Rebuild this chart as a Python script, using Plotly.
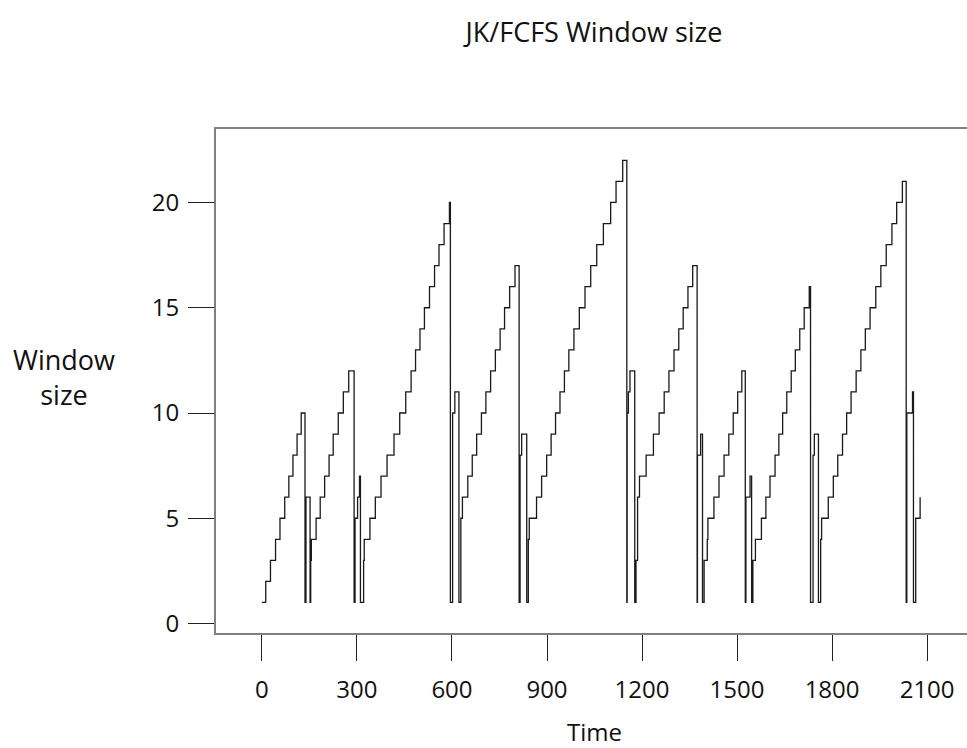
import plotly.graph_objects as go

# Change points of the window-size step function (time, window size)
time_points = [
    0, 12, 27, 43, 57, 72, 85, 98, 111, 124,
    136, 139, 152, 154, 156, 171, 184, 198, 212, 225, 241, 257, 274,
    291, 294, 302, 308, 311, 321, 323, 341, 358, 376, 395, 417, 435, 454, 471,
    485, 499, 513, 529, 545, 559, 575, 592,
    595, 602, 609, 622, 628, 633, 650, 664, 678, 693, 707, 722, 737, 752, 766, 782, 799,
    812, 815, 820, 836, 841, 844, 867, 883, 899, 913, 927, 941, 955, 969, 985, 1002,
    1020, 1038, 1057, 1078, 1101, 1118, 1139,
    1152, 1153, 1157, 1162, 1177, 1181, 1186, 1192, 1213, 1236, 1254, 1270, 1285,
    1301, 1316, 1330, 1345, 1360,
    1374, 1375, 1385, 1391, 1396, 1406, 1408, 1427, 1443, 1459, 1474, 1488, 1502, 1515,
    1526, 1528, 1541, 1546, 1550, 1558, 1577, 1591, 1604, 1620, 1632, 1644, 1657, 1671,
    1684, 1698, 1712, 1728,
    1732, 1740, 1744, 1757, 1764, 1767, 1788, 1804, 1818, 1833, 1846, 1860, 1876,
    1891, 1905, 1920, 1938, 1954, 1971, 1989, 2004, 2022,
    2034, 2036, 2054, 2057, 2064, 2078,
]
window_values = [
    1, 2, 3, 4, 5, 6, 7, 8, 9, 10,
    1, 6, 1, 3, 4, 5, 6, 7, 8, 9, 10, 11, 12,
    1, 5, 6, 7, 1, 3, 4, 5, 6, 7, 8, 9, 10, 11, 12,
    13, 14, 15, 16, 17, 18, 19, 20,
    1, 10, 11, 1, 5, 6, 7, 8, 9, 10, 11, 12, 13, 14, 15, 16, 17,
    1, 8, 9, 1, 4, 5, 6, 7, 8, 9, 10, 11, 12, 13, 14, 15,
    16, 17, 18, 19, 20, 21, 22,
    1, 10, 11, 12, 1, 3, 6, 7, 8, 9, 10, 11, 12,
    13, 14, 15, 16, 17,
    1, 8, 9, 1, 3, 4, 5, 6, 7, 8, 9, 10, 11, 12,
    1, 6, 7, 1, 3, 4, 5, 6, 7, 8, 9, 10, 11, 12,
    13, 14, 15, 16,
    1, 8, 9, 1, 4, 5, 6, 7, 8, 9, 10, 11, 12,
    13, 14, 15, 16, 17, 18, 19, 20, 21,
    1, 10, 11, 1, 5, 6,
]

x_ticks = [0, 300, 600, 900, 1200, 1500, 1800, 2100]
y_ticks = [0, 5, 10, 15, 20]

FONT = "Open Sans"
W, H = 967, 748
ML, MT, MB, MR = 216, 129, 115, 0

fig = go.Figure()
fig.add_trace(go.Scatter(
    x=time_points, y=window_values, mode="lines",
    line=dict(shape="hv", color="#1a1a1a", width=1.3),
    showlegend=False, hoverinfo="skip",
))

fig.update_layout(
    width=W, height=H,
    margin=dict(l=ML, r=MR, t=MT, b=MB, pad=0),
    paper_bgcolor="white", plot_bgcolor="white",
    font=dict(family=FONT, size=24, color="#111"),
    title=dict(text="JK/FCFS Window size", x=(594 - ML) / (W - ML - MR), xref="paper",
               xanchor="center",
               y=1 - 33 / H, yref="container", yanchor="middle",
               font=dict(family=FONT, size=27, color="#111")),
    xaxis=dict(
        range=[-145, 2226], tickvals=x_ticks, ticktext=[str(v) for v in x_ticks],
        showgrid=False, zeroline=False,
        showline=True, mirror=True, linecolor="#808080", linewidth=2,
        ticks="outside", ticklen=26, tickwidth=1, tickcolor="#222",
        tickfont=dict(family=FONT, size=24, color="#111"),
        ticklabelstandoff=8,
    ),
    yaxis=dict(
        range=[-0.45, 23.49], tickvals=y_ticks, ticktext=[str(v) for v in y_ticks],
        showgrid=False, zeroline=False,
        showline=True, mirror=False, linecolor="#808080", linewidth=2,
        ticks="outside", ticklen=26, tickwidth=1, tickcolor="#222",
        tickfont=dict(family=FONT, size=24, color="#111"),
        ticklabelstandoff=4,
    ),
    annotations=[
        dict(text="Window<br>size", xref="paper", yref="paper",
             x=(64 - ML) / (W - ML - MR), y=(H - MB - 377) / (H - MT - MB),
             xanchor="center", yanchor="middle", showarrow=False, align="center",
             font=dict(family=FONT, size=27, color="#111")),
        dict(text="Time", xref="paper", yref="paper",
             x=(594 - ML) / (W - ML - MR), y=(H - MB - 731) / (H - MT - MB),
             xanchor="center", yanchor="middle", showarrow=False,
             font=dict(family=FONT, size=24, color="#111")),
    ],
)

fig.write_html("out.html")
